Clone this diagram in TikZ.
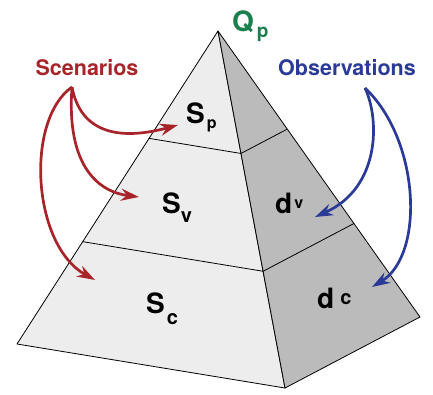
\documentclass[tikz,border=0pt]{standalone}
\usepackage{fontspec}
\setmainfont{TeX Gyre Heros}
\usetikzlibrary{arrows.meta,calc}
\definecolor{scenred}{HTML}{A8242B}
\definecolor{obsblue}{HTML}{2C3A97}
\definecolor{qgreen}{HTML}{1A7F4C}
\definecolor{faceL}{HTML}{EDEDED}
\definecolor{faceR}{HTML}{BBBBBB}
\newcommand{\subfont}[1]{\fontsize{#1}{#1}\selectfont}
\tikzset{
  biglab/.style={font=\fontsize{28}{30}\selectfont\bfseries,anchor=base west,inner sep=0pt},
  toplab/.style={font=\fontsize{21.5}{24}\selectfont\bfseries,anchor=base,inner sep=0pt},
  pointer/.style={-{Stealth[length=18pt,width=12pt]},line width=2.7pt},
}

\begin{document}
\begin{tikzpicture}[x=1pt,y=-1pt]
\useasboundingbox (0,0) rectangle (433,394);
% corners of the pyramid
\coordinate (apex) at (218,31);
\coordinate (bl) at (17,344);
\coordinate (bf) at (285,388);
\coordinate (br) at (420,317);
% cut lines
\coordinate (l1) at ($(apex)!0.343!(bl)$);
\coordinate (f1) at ($(apex)!0.343!(bf)$);
\coordinate (r1) at ($(apex)!0.343!(br)$);
\coordinate (l2) at ($(apex)!0.673!(bl)$);
\coordinate (f2) at ($(apex)!0.673!(bf)$);
\coordinate (r2) at ($(apex)!0.673!(br)$);
\draw[fill=faceL,line width=0.8pt,line join=round] (apex) -- (bl) -- (bf) -- cycle;
\draw[fill=faceR,line width=0.8pt,line join=round] (apex) -- (bf) -- (br) -- cycle;
\draw[line width=0.8pt] (l1) -- (f1) -- (r1);
\draw[line width=0.8pt] (l2) -- (f2) -- (r2);

% labels
\node[biglab,qgreen] (qp) at (232,31) {Q\kern3pt\raisebox{-6pt}{\subfont{19}p}};
\node[biglab] (sp) at (186,123) {S\kern2pt\raisebox{-5pt}{\subfont{16}p}};
\node[biglab] (sv) at (162,213) {S\raisebox{-9pt}{\subfont{20}v}};
\node[biglab] (sc) at (146,313) {S\kern2pt\raisebox{-11pt}{\subfont{20}c}};
\node[biglab] (dv) at (275,213) {d\kern2pt\raisebox{5pt}{\subfont{16}v}};
\node[biglab] (dc) at (317,308) {d\kern6pt\raisebox{4pt}{\subfont{20}c}};
\node[toplab,scenred] (scen) at (87,75) {Scenarios};
\node[toplab,obsblue] (obs) at (347,75) {Observations};

% arrows
\coordinate (sfrom) at (72,87);
\coordinate (ofrom) at (365,88);
\coordinate (tosp) at (178,125);
\coordinate (tosv) at (139,197);
\coordinate (tosc) at (95,280);
\coordinate (todv) at (315,217);
\coordinate (todc) at (372,287);
\draw[pointer,scenred] (sfrom) .. controls (80,130) and (115,142) .. (tosp);
\draw[pointer,scenred] (sfrom) .. controls (66,168) and (100,192) .. (tosv);
\draw[pointer,scenred] (sfrom) .. controls (25,120) and (32,245) .. (tosc);
\draw[pointer,obsblue] (ofrom) .. controls (380,120) and (380,188) .. (todv);
\draw[pointer,obsblue] (ofrom) .. controls (420,140) and (425,255) .. (todc);
\end{tikzpicture}
\end{document}
